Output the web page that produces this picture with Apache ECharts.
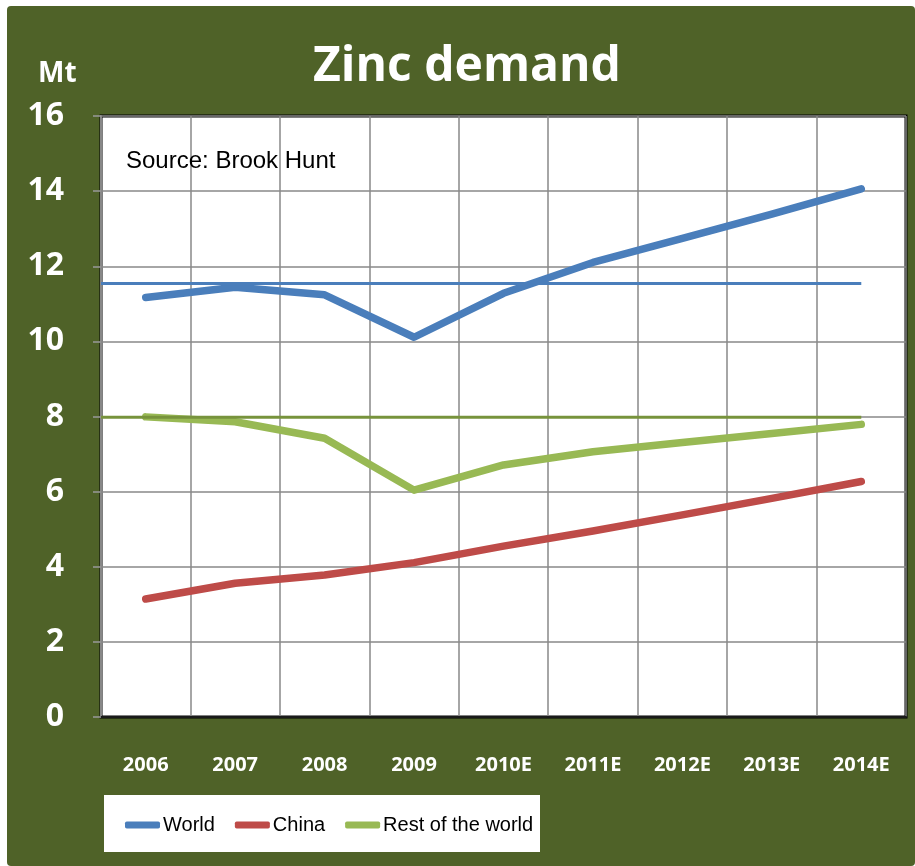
<!DOCTYPE html>
<html lang="en">

<head>
    <meta charset="utf-8" />
    <title>Zinc demand</title>
    <script src="https://cdn.jsdelivr.net/npm/echarts@6.0.0/dist/echarts.min.js"></script>
    <style>
        body { margin: 0; background: #fff; }
        #frame { position: absolute; left: 7px; top: 6px; width: 908px; height: 860px; background: #4f6228; border-radius: 4px; }
        #main { position: absolute; left: 0; top: 0; width: 915px; height: 866px; }
    </style>
</head>

<body>
    <div id="frame"></div>
    <div id="main"></div>
    <script type="text/javascript">
        var years = ['2006', '2007', '2008', '2009', '2010E', '2011E', '2012E', '2013E', '2014E'];
        var world = [11.17, 11.44, 11.24, 10.11, 11.28, 12.10, 12.74, 13.39, 14.06];
        var china = [3.14, 3.56, 3.78, 4.11, 4.55, 4.95, 5.38, 5.82, 6.27];
        var restOfWorld = [7.99, 7.86, 7.42, 6.04, 6.71, 7.06, 7.31, 7.55, 7.79];
        // flat reference levels drawn across the plot
        var worldLevel = 11.54;
        var restLevel = 7.98;

        var plain = '"Liberation Sans", sans-serif';
        var bold = '"Open Sans", sans-serif';

        // reference lines run from the axis start to the last category centre
        function levelLine(v) {
            return [[0, v], [years.length - 0.5, v]];
        }

        var chart = echarts.init(document.getElementById('main'));
        var option = {
            backgroundColor: 'transparent',
            animation: false,
            title: [
                {
                    text: 'Zinc demand',
                    left: 308,
                    top: 38,
                    textStyle: { color: '#fff', fontFamily: bold, fontWeight: 'bold', fontSize: 48 }
                },
                {
                    text: 'Mt',
                    left: 33,
                    top: 55,
                    textStyle: { color: '#fff', fontFamily: bold, fontWeight: 'bold', fontSize: 28 }
                },
                {
                    text: 'Source: Brook Hunt',
                    left: 121,
                    top: 144,
                    textStyle: { color: '#000', fontFamily: plain, fontWeight: 'normal', fontSize: 24 }
                }
            ],
            graphic: [
                {
                    type: 'rect',
                    z: 0,
                    shape: { x: 104, y: 795, width: 436, height: 57 },
                    style: { fill: '#fff' }
                }
            ],
            legend: {
                data: ['World', 'China', 'Rest of the world'],
                left: 120,
                top: 810,
                z: 10,
                icon: 'roundRect',
                itemWidth: 35,
                itemHeight: 7,
                itemGap: 20,
                textStyle: { color: '#000', fontFamily: plain, fontSize: 20, padding: [0, 0, 0, -2] }
            },
            grid: {
                left: 101,
                top: 116,
                right: 9,
                bottom: 149,
                show: true,
                backgroundColor: '#fff',
                borderColor: '#000',
                borderWidth: 3
            },
            xAxis: [
                {
                    type: 'category',
                    data: years,
                    axisLine: { lineStyle: { color: '#1a1a1a', width: 2 } },
                    axisTick: { length: 9, lineStyle: { color: '#999', width: 1.5 } },
                    axisLabel: { color: '#fff', fontFamily: bold, fontWeight: 'bold', fontSize: 20, margin: 38 },
                    splitLine: { show: true, lineStyle: { color: '#888', width: 1.5 } }
                },
                {
                    type: 'value',
                    min: 0,
                    max: years.length,
                    show: false
                }
            ],
            yAxis: {
                type: 'value',
                min: 0,
                max: 16,
                interval: 2,
                axisLine: { show: true, lineStyle: { color: '#888', width: 2 } },
                axisTick: { show: true, length: 8, lineStyle: { color: '#999', width: 1.5 } },
                axisLabel: { color: '#fff', fontFamily: bold, fontWeight: 'bold', fontSize: 32, margin: 37 },
                splitLine: { lineStyle: { color: '#888', width: 1.5 } }
            },
            series: [
                {
                    name: 'World',
                    type: 'line',
                    data: world,
                    symbol: 'none',
                    color: '#4a7ebb',
                    lineStyle: { width: 7.5, cap: 'round', join: 'round' }
                },
                {
                    name: 'China',
                    type: 'line',
                    data: china,
                    symbol: 'none',
                    color: '#be4b48',
                    lineStyle: { width: 7.5, cap: 'round', join: 'round' }
                },
                {
                    name: 'Rest of the world',
                    type: 'line',
                    data: restOfWorld,
                    symbol: 'none',
                    color: '#98b954',
                    lineStyle: { width: 7.5, cap: 'round', join: 'round' }
                },
                {
                    name: 'World level',
                    type: 'line',
                    xAxisIndex: 1,
                    data: levelLine(worldLevel),
                    symbol: 'none',
                    color: '#4a7ebb',
                    lineStyle: { width: 3 }
                },
                {
                    name: 'Rest level',
                    type: 'line',
                    xAxisIndex: 1,
                    data: levelLine(restLevel),
                    symbol: 'none',
                    color: '#77933c',
                    lineStyle: { width: 3 }
                }
            ]
        };
        chart.setOption(option);
    </script>
</body>

</html>
